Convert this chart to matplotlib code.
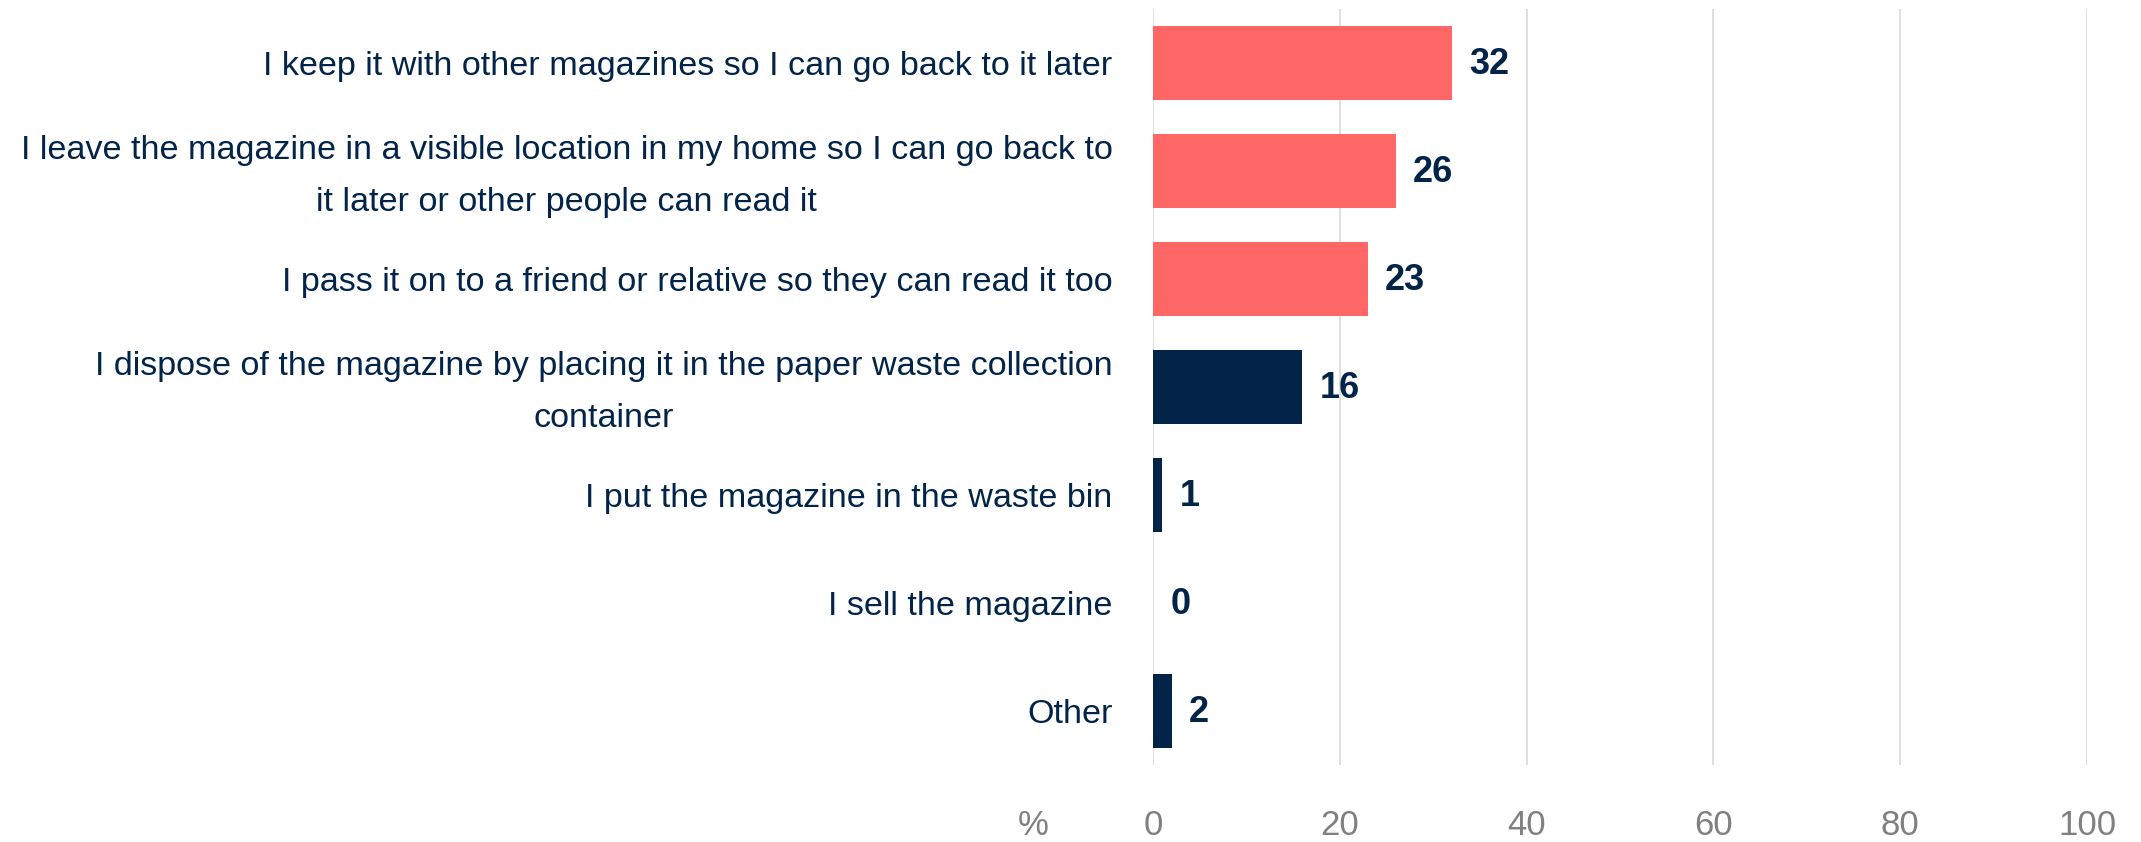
import matplotlib.pyplot as plt
import matplotlib.transforms as mtransforms
import numpy as np

plt.rcParams['font.family'] = ['Liberation Sans', 'DejaVu Sans']

# survey answers, top to bottom
answers = [
    "I keep it with other magazines so I can go back to it later",
    "I leave the magazine in a visible location in my home so I can go back to\nit later or other people can read it",
    "I pass it on to a friend or relative so they can read it too",
    "I dispose of the magazine by placing it in the paper waste collection\ncontainer",
    "I put the magazine in the waste bin",
    "I sell the magazine",
    "Other",
]
shares = [32, 26, 23, 16, 1, 0, 2]
keeps_magazine = [True, True, True, False, False, False, False]
x_ticks = [0, 20, 40, 60, 80, 100]

CORAL = "#FF6666"
NAVY = "#022448"
GRID = "#d9d9d9"
TICK_GREY = "#808080"

fig = plt.figure(figsize=(21.41, 8.42), dpi=100)
ax = fig.add_axes([1153 / 2141, 77 / 842, (2087 - 1153) / 2141, 756 / 842])

y = np.arange(len(answers))
colors = [CORAL if k else NAVY for k in keeps_magazine]
ax.barh(y, shares, height=0.676, color=colors, zorder=3)

for yi, v in zip(y, shares):
    ax.annotate(f"{v}", xy=(v, yi), xytext=(12.5, -1), textcoords="offset points",
                ha="left", va="center", fontsize=26, fontweight="bold", color=NAVY)

ax.set_xlim(0, 100)
ax.set_ylim(len(answers) - 0.5, -0.5)
ax.set_xticks(x_ticks)
ax.set_xticklabels([str(t) for t in x_ticks], fontsize=25, color=TICK_GREY,
                   va="baseline")
ax.tick_params(axis="x", length=0, pad=50.5)
ax.set_yticks(y)
ax.set_yticklabels(answers, fontsize=24.6, color=NAVY, linespacing=1.85,
                   multialignment="center")
ax.tick_params(axis="y", length=0, pad=29)

# two-line labels sit a little high so the block centres on the bar
lift = mtransforms.ScaledTranslation(0, 6 / 72, fig.dpi_scale_trans)
for lbl in ax.get_yticklabels():
    if "\n" in lbl.get_text():
        lbl.set_transform(lbl.get_transform() + lift)

ax.xaxis.grid(True, color=GRID, linewidth=1.2, zorder=0)
for side in ax.spines.values():
    side.set_visible(False)

# unit marker sits to the left of the x tick labels
ax.annotate("%", xy=(0, 0), xycoords=ax.get_xaxis_transform(), xytext=(-86, -50.5),
            textcoords="offset points", ha="center", va="baseline",
            fontsize=25, color=TICK_GREY)

fig.savefig("out.png", dpi=100)
